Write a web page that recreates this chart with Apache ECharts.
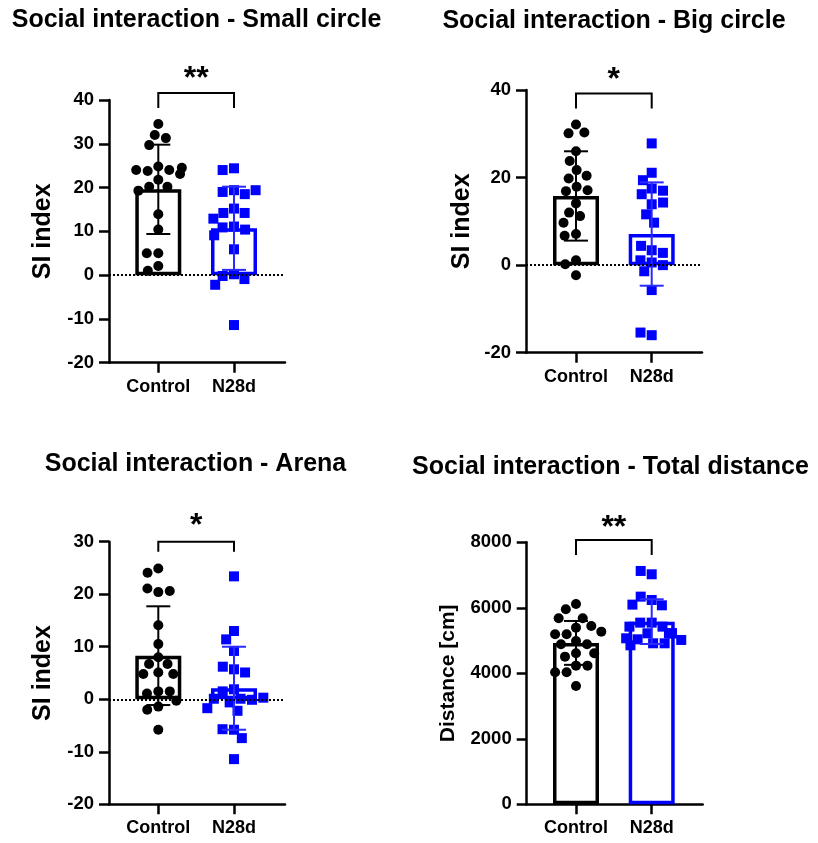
<!DOCTYPE html>
<html><head><meta charset="utf-8">
<script src="https://cdn.jsdelivr.net/npm/echarts@6/dist/echarts.min.js"></script>
<style>html,body{margin:0;padding:0;background:#fff}#c{width:818px;height:843px}</style>
</head><body><div id="c"></div>
<script>
// ---------- DATA ----------
const categories = ['Control', 'N28d'];

const smallCircleControl = [34.5, 32.0, 31.3, 29.7, 24.8, 23.8, 24.0, 24.0, 23.1, 24.5, 21.8, 20.2, 20.2, 19.3, 13.9, 10.4, 5.0, 5.0, 2.1, 1.0];
const smallCircleN28d   = [24.4, 24.0, 19.4, 19.0, 18.5, 19.4, 15.2, 14.2, 14.2, 12.9, 11.1, 10.9, 10.4, 9.1, 5.9, 0.2, -0.2, -0.9, -2.2, -11.4];
const smallCircleMean = [19.6, 10.7];
const smallCircleSD   = [10.2, 9.5];

const bigCircleControl = [32.1, 30.1, 30.3, 26.0, 23.8, 21.7, 19.8, 20.4, 17.9, 16.9, 17.1, 14.1, 12.0, 11.2, 9.7, 7.1, 6.7, 1.1, 0.2, -2.3];
const bigCircleN28d   = [27.8, 21.1, 19.4, 17.5, 17.0, 16.2, 13.9, 14.3, 11.6, 9.7, 3.4, 4.4, 2.8, 0.6, 1.1, 0.0, -1.4, -5.7, -16.0, -15.4];
const bigCircleMean = [15.8, 7.1];
const bigCircleSD   = [10.2, 11.8];

const arenaControl = [24.9, 24.1, 20.4, 21.1, 20.6, 14.1, 10.5, 8.0, 6.7, 6.7, 5.1, 4.8, 4.8, 1.5, 1.1, 1.5, -0.3, -1.4, -2.0, -5.8];
const arenaN28d   = [23.4, 13.0, 11.4, 9.2, 5.7, 6.2, 5.1, 1.9, 1.5, 0.1, -0.1, 0.1, 0.3, -0.6, -2.2, -1.7, -5.8, -5.7, -7.4, -11.4];
const arenaMean = [8.3, 2.1];
const arenaSD   = [9.4, 7.9];

const distanceControl = [6117, 5954, 5394, 5679, 5679, 5445, 4987, 5191, 5191, 5272, 4885, 4885, 4611, 4611, 4509, 4234, 4234, 4031, 4031, 3613];
const distanceN28d   = [7023, 7125, 6239, 6341, 6076, 6097, 5547, 5547, 5425, 5425, 5221, 5221, 5221, 5221, 4916, 5038, 5069, 4916, 5018, 4855];
const distanceMean = [4928, 5577];
const distanceSD   = [670, 683];

const panelTitles = ['Social interaction - Small circle', 'Social interaction - Big circle', 'Social interaction - Arena', 'Social interaction - Total distance'];
const yAxisNames = ['SI index', 'SI index', 'SI index', 'Distance [cm]'];
const sigLabels = ['**', '*', '*', '**'];
const sigLevels = [41.6, 39.2, 30, 8070];
const yMins = [-20, -20, -20, 0];
const yMaxs = [40, 40, 30, 8000];
const yIntervals = [10, 20, 10, 2000];

// ---------- LAYOUT / STYLE ----------
const FONT = 'Liberation Sans, Arial, Helvetica, sans-serif';
const BLACK = '#000000', BLUE = '#0000ff', BLUE_ERR = '#2a2aff';
const groupColors = [BLACK, BLUE];
const errColors = [BLACK, BLUE_ERR];

const panels = [
  {ctrl: smallCircleControl, n28: smallCircleN28d, mean: smallCircleMean, sd: smallCircleSD,
   axisX: 109, top: 100, height: 262.7, cx: 158.3, tx: 196.5, ty: 8, nameGap: 53, nameSize: 25, leg: 15, starGap: 14, zeroLine: true},
  {ctrl: bigCircleControl, n28: bigCircleN28d, mean: bigCircleMean, sd: bigCircleSD,
   axisX: 526, top: 90, height: 262.7, cx: 576, tx: 614, ty: 9, nameGap: 51, nameSize: 25, leg: 15, starGap: 13, zeroLine: true},
  {ctrl: arenaControl, n28: arenaN28d, mean: arenaMean, sd: arenaSD,
   axisX: 109, top: 541.7, height: 262.6, cx: 158.3, tx: 195.5, ty: 452, nameGap: 53, nameSize: 25, leg: 10, starGap: 16, zeroLine: true},
  {ctrl: distanceControl, n28: distanceN28d, mean: distanceMean, sd: distanceSD,
   axisX: 526.7, top: 542.3, height: 262, cx: 576, tx: 610.5, ty: 455, nameGap: 68, nameSize: 21, leg: 15, starGap: 12, zeroLine: false}
];
const SPACING = 75.7, AXIS_LEN = 176;

const title = [], grid = [], xAxis = [], yAxis = [], series = [];

panels.forEach((p, k) => {
  title.push({text: panelTitles[k], left: p.tx, top: p.ty, textAlign: 'center', padding: 0,
    textStyle: {fontFamily: FONT, fontWeight: 'bold', fontSize: 25, color: '#000'}});

  const gLeft = p.cx - SPACING / 2;
  grid.push({left: gLeft, top: p.top, width: SPACING * 2, height: p.height, outerBoundsMode: 'none', containLabel: false});
  grid.push({left: p.axisX, top: p.top, width: AXIS_LEN, height: p.height, outerBoundsMode: 'none', containLabel: false});

  xAxis.push({
    gridIndex: 2 * k, type: 'category', data: categories, boundaryGap: true,
    jitter: 60, jitterOverlap: false, jitterMargin: 1.5,
    axisLine: {show: false, onZero: false},
    axisTick: {show: true, alignWithLabel: true, length: 10, lineStyle: {color: '#000', width: 2.5}},
    axisLabel: {interval: 0, hideOverlap: false, margin: 15, fontFamily: FONT, fontWeight: 'bold', fontSize: 18, color: '#000'},
    splitLine: {show: false}
  });
  xAxis.push({
    gridIndex: 2 * k + 1, type: 'value', min: 0, max: 1,
    axisLine: {show: true, onZero: false, lineStyle: {color: '#000', width: 2.5}},
    axisTick: {show: false}, axisLabel: {show: false}, splitLine: {show: false}
  });
  yAxis.push({
    gridIndex: 2 * k, type: 'value', min: yMins[k], max: yMaxs[k], interval: yIntervals[k],
    offset: gLeft - p.axisX,
    name: yAxisNames[k], nameLocation: 'middle', nameGap: p.nameGap, nameRotate: 90,
    nameTextStyle: {fontFamily: FONT, fontWeight: 'bold', fontSize: p.nameSize, color: '#000'},
    axisLine: {show: true, lineStyle: {color: '#000', width: 2.5}},
    axisTick: {show: true, length: 10, lineStyle: {color: '#000', width: 2.5}},
    axisLabel: {margin: 15, fontFamily: FONT, fontWeight: 'bold', fontSize: 18.5, color: '#000', formatter: v => String(v)},
    splitLine: {show: false}
  });
  yAxis.push({
    gridIndex: 2 * k + 1, type: 'value', min: yMins[k], max: yMaxs[k], show: false, splitLine: {show: false}
  });

  const xa = 2 * k, ya = 2 * k, xb = 2 * k + 1, yb = 2 * k + 1;

  series.push({
    type: 'bar', xAxisIndex: xa, yAxisIndex: ya, barWidth: 46, z: 2, silent: true,
    data: p.mean.map((m, i) => ({value: m, itemStyle: {color: '#ffffff', borderColor: groupColors[i], borderWidth: 3.5}}))
  });
  series.push({
    type: 'scatter', xAxisIndex: xa, yAxisIndex: ya, symbol: 'circle', symbolSize: 10, z: 3, silent: true,
    itemStyle: {color: BLACK, opacity: 1},
    data: p.ctrl.map(v => [0, v])
  });
  series.push({
    type: 'scatter', xAxisIndex: xa, yAxisIndex: ya, symbol: 'rect', symbolSize: 10, z: 3, silent: true,
    itemStyle: {color: BLUE, opacity: 1},
    data: p.n28.map(v => [1, v])
  });
  series.push({
    type: 'custom', xAxisIndex: xa, yAxisIndex: ya, z: 4, silent: true,
    data: p.mean.map((m, i) => [i, m, p.sd[i]]),
    renderItem(params, api) {
      const i = api.value(0), m = api.value(1), s = api.value(2);
      const c = api.coord([i, m]);
      const t = api.coord([i, m + s]);
      const b = api.coord([i, m - s]);
      const hw = 12, col = errColors[params.dataIndex];
      const st = {stroke: col, lineWidth: 2};
      return {type: 'group', children: [
        {type: 'line', shape: {x1: c[0], y1: t[1], x2: c[0], y2: b[1]}, style: st},
        {type: 'line', shape: {x1: c[0] - hw, y1: t[1], x2: c[0] + hw, y2: t[1]}, style: st},
        {type: 'line', shape: {x1: c[0] - hw, y1: b[1], x2: c[0] + hw, y2: b[1]}, style: st}
      ]};
    }
  });
  series.push({
    type: 'custom', xAxisIndex: xa, yAxisIndex: ya, z: 4, silent: true, clip: false,
    data: [[0, sigLevels[k]]],
    renderItem(params, api) {
      const a = api.coord([0, api.value(1)]);
      const b = api.coord([1, api.value(1)]);
      return {type: 'group', children: [
        {type: 'polyline', shape: {points: [[a[0], a[1] + p.leg], [a[0], a[1]], [b[0], b[1]], [b[0], b[1] + p.leg]]},
         style: {stroke: '#000', lineWidth: 2, fill: null}},
        {type: 'text', style: {text: sigLabels[k], x: (a[0] + b[0]) / 2, y: a[1] - p.starGap,
          align: 'center', verticalAlign: 'middle', fontFamily: FONT, fontWeight: 'bold', fontSize: 32, fill: '#000'}}
      ]};
    }
  });
  if (p.zeroLine) {
    series.push({
      type: 'scatter', xAxisIndex: xb, yAxisIndex: yb, symbolSize: 0, silent: true, z: 5,
      data: [[0, 0]],
      markLine: {silent: true, symbol: 'none', label: {show: false},
        lineStyle: {color: '#000', width: 2, type: [2, 2]},
        data: [{yAxis: 0}]}
    });
  }
});

const chart = echarts.init(document.getElementById('c'), null, {renderer: 'canvas'});
chart.setOption({animation: false, backgroundColor: '#ffffff', title, grid, xAxis, yAxis, series});
</script>
</body></html>
